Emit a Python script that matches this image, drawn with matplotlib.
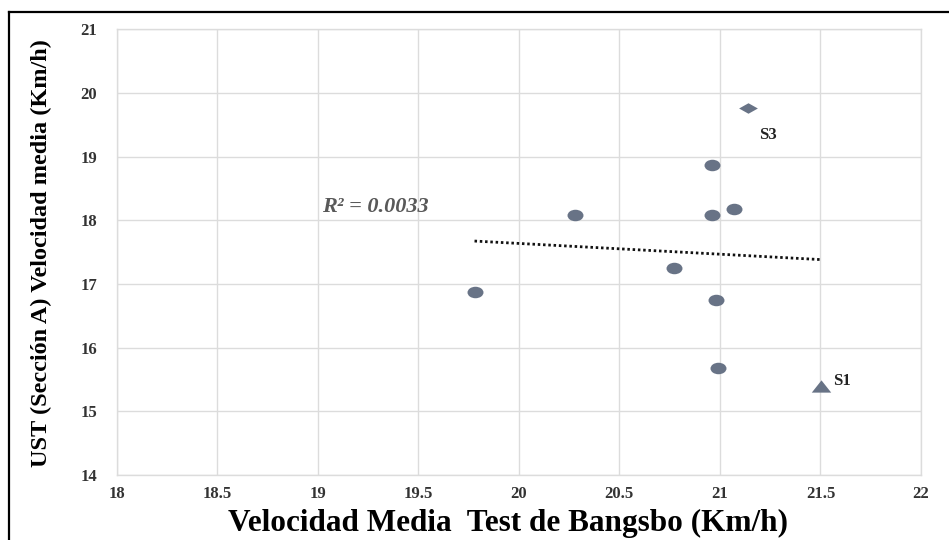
import numpy as np
import matplotlib
matplotlib.use("Agg")
import matplotlib.pyplot as plt
from matplotlib.path import Path
from matplotlib.transforms import Affine2D
from matplotlib.lines import Line2D

# Bangsbo mean speed (x) vs UST section A mean speed (y), km/h
bangsbo = [20.96, 20.28, 20.96, 21.07, 20.77, 19.78, 20.98, 20.99]
ust = [18.87, 18.08, 18.09, 18.18, 17.25, 16.88, 16.75, 15.68]

# highlighted subjects
s3_x, s3_y = 21.14, 19.76
s1_x, s1_y = 21.505, 15.40

x_ticks = [18, 18.5, 19, 19.5, 20, 20.5, 21, 21.5, 22]
x_tick_labels = ["18", "18.5", "19", "19.5", "20", "20.5", "21", "21.5", "22"]
y_ticks = [14, 15, 16, 17, 18, 19, 20, 21]
r2_text = "R² = 0.0033"

serif = "Liberation Serif"
pt_color = "#687386"
grid_color = "#dcdcdc"

# slightly flattened marker shapes
ellipse = Path.unit_circle().transformed(Affine2D().scale(1.0, 0.72))
diamond = Path([(0, 1), (1, 0), (0, -1), (-1, 0), (0, 1)],
               [Path.MOVETO, Path.LINETO, Path.LINETO, Path.LINETO, Path.CLOSEPOLY]
               ).transformed(Affine2D().scale(1.0, 0.56))
triangle = Path([(0, 1), (-1, -1), (1, -1), (0, 1)],
                [Path.MOVETO, Path.LINETO, Path.LINETO, Path.CLOSEPOLY]
                ).transformed(Affine2D().scale(1.0, 0.63))

fig = plt.figure(figsize=(9.49, 5.40), dpi=100)
ax = fig.add_axes([0.1228, 0.1204, 0.8477, 0.8254])

ax.set_xlim(18, 22)
ax.set_ylim(14, 21)
ax.set_xticks(x_ticks)
ax.set_xticklabels(x_tick_labels)
ax.set_yticks(y_ticks)
ax.grid(True, color=grid_color, linewidth=1.0)
ax.set_axisbelow(True)
for sp in ax.spines.values():
    sp.set_color(grid_color)
    sp.set_linewidth(1.0)
ax.tick_params(length=0, labelsize=12, labelcolor="#333333")
ax.tick_params(axis="x", pad=8)
ax.tick_params(axis="y", pad=14)
for lbl in ax.get_xticklabels() + ax.get_yticklabels():
    lbl.set_fontfamily(serif)
    lbl.set_fontweight("bold")

# linear trend over all subjects
all_x = np.array(bangsbo + [s3_x, s1_x])
all_y = np.array(ust + [s3_y, s1_y])
slope, icpt = np.polyfit(all_x, all_y, 1)
tx = np.array([all_x.min(), all_x.max()])
ax.plot(tx, slope * tx + icpt, color="#111111", linewidth=2.0,
        linestyle=(0, (0.9, 1.0)), zorder=2)

ax.plot(bangsbo, ust, linestyle="none", marker=ellipse, markersize=11.5,
        color=pt_color, markeredgewidth=0, zorder=3)
ax.plot([s3_x], [s3_y], linestyle="none", marker=diamond, markersize=13.5,
        color=pt_color, markeredgewidth=0, zorder=3)
ax.plot([s1_x], [s1_y], linestyle="none", marker=triangle, markersize=14,
        color=pt_color, markeredgewidth=0, zorder=3)

ax.text(21.197, 19.34, "S3", fontfamily=serif, fontweight="bold",
        fontsize=12, color="#222222", ha="left", va="center")
ax.text(21.565, 15.47, "S1", fontfamily=serif, fontweight="bold",
        fontsize=12, color="#222222", ha="left", va="center")
ax.text(19.02, 18.215, r2_text, fontfamily=serif, fontstyle="italic",
        fontweight="bold", fontsize=16, color="#595959", ha="left", va="center")

fig.text(508 / 949, 0.0172, "Velocidad Media  Test de Bangsbo (Km/h)",
         fontfamily=serif, fontweight="bold", fontsize=22.5, ha="center",
         va="baseline", color="black")
fig.text(41 / 949, 0.531, "UST (Sección A) Velocidad media (Km/h)",
         fontfamily=serif, fontweight="bold", fontsize=17.5, rotation=90,
         ha="center", va="center", color="black")

# frame lines along the left and top edges
fig.add_artist(Line2D([8.5 / 949, 8.5 / 949], [0, 1 - 12.4 / 540],
                      transform=fig.transFigure, color="black", linewidth=1.6))
fig.add_artist(Line2D([8.5 / 949, 1], [1 - 12.4 / 540, 1 - 12.4 / 540],
                      transform=fig.transFigure, color="black", linewidth=1.6))

fig.savefig("out.png", dpi=100, facecolor="white")
